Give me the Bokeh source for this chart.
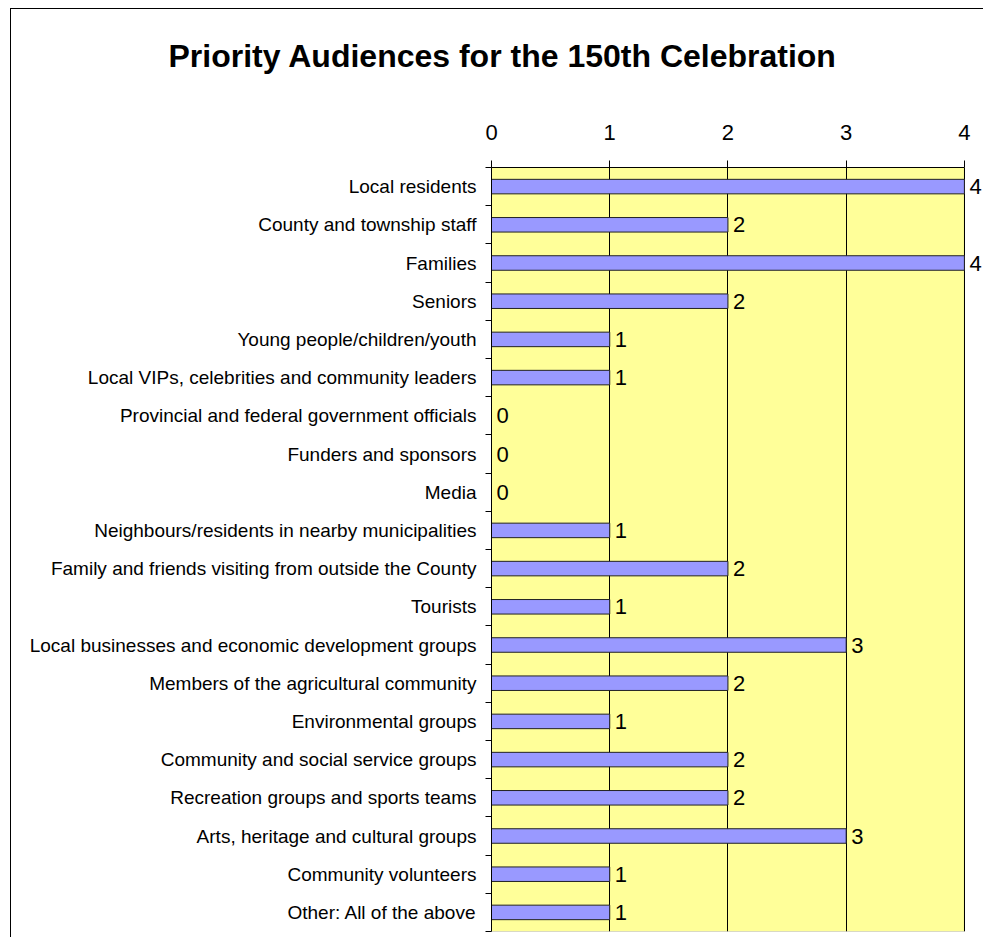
from bokeh.plotting import figure
from bokeh.models import ColumnDataSource, FixedTicker, Range1d, LabelSet, BoxAnnotation
from bokeh.core.properties import value
from bokeh.embed import file_html
from bokeh.resources import INLINE

title_text = "Priority Audiences for the 150th Celebration"
categories = [
    "Local residents",
    "County and township staff",
    "Families",
    "Seniors",
    "Young people/children/youth",
    "Local VIPs, celebrities and community leaders",
    "Provincial and federal government officials",
    "Funders and sponsors",
    "Media",
    "Neighbours/residents in nearby municipalities",
    "Family and friends visiting from outside the County",
    "Tourists",
    "Local businesses and economic development groups",
    "Members of the agricultural community",
    "Environmental groups",
    "Community and social service groups",
    "Recreation groups and sports teams",
    "Arts, heritage and cultural groups",
    "Community volunteers",
    "Other: All of the above",
]
values = [4, 2, 4, 2, 1, 1, 0, 0, 0, 1, 2, 1, 3, 2, 1, 2, 2, 3, 1, 1]
x_ticks = [0, 1, 2, 3, 4]

n = len(categories)
pos = list(range(n))
source = ColumnDataSource(data=dict(y=pos, value=values, label=[str(v) for v in values]))

x_min, x_max = x_ticks[0], x_ticks[-1]

p = figure(
    width=973, height=929,
    x_range=Range1d(x_min, x_max + 0.17), y_range=Range1d(n - 0.5, -0.5),
    x_axis_location="above",
    output_backend="svg", toolbar_location=None,
    min_border_left=480, min_border_top=158, min_border_right=0, min_border_bottom=7,
)
p.styles = {"margin-left": "10px", "margin-top": "8px",
            "border-left": "1px solid #000000", "border-top": "1px solid #000000"}
p.background_fill_color = "white"
p.border_fill_color = "white"
p.outline_line_color = None

plot_area = BoxAnnotation(left=x_min, right=x_max, top=-0.5, bottom=n - 0.5,
                          fill_color="#FFFF99", fill_alpha=1.0,
                          line_color="#000000", line_width=1, level="image")
p.add_layout(plot_area)

p.hbar(y="y", right="value", left=0, height=0.38, source=source,
       fill_color="#9999FF", line_color="#222222", line_width=1)

labels = LabelSet(x="value", y="y", text="label", source=source, x_offset=5,
                  text_baseline="middle", text_font=value("Liberation Sans"),
                  text_font_size=value("22px"), text_color="black")
p.add_layout(labels)

# x axis (top)
p.xaxis.ticker = FixedTicker(ticks=x_ticks)
p.xaxis.bounds = (x_min, x_max)
p.xaxis.axis_line_color = "black"
p.xaxis.major_tick_in = 0
p.xaxis.major_tick_out = 7
p.xaxis.minor_tick_line_color = None
p.xaxis.major_label_text_font = "Liberation Sans"
p.xaxis.major_label_text_font_size = "22px"
p.xaxis.major_label_text_color = "black"
p.xaxis.major_label_standoff = 21

# y axis (left)
p.yaxis.ticker = FixedTicker(ticks=pos, minor_ticks=[i - 0.5 for i in range(n + 1)])
p.yaxis.major_label_overrides = {i: c for i, c in enumerate(categories)}
p.yaxis.major_tick_line_color = None
p.yaxis.major_tick_in = 0
p.yaxis.major_tick_out = 0
p.yaxis.minor_tick_in = 0
p.yaxis.minor_tick_out = 6
p.yaxis.minor_tick_line_color = "black"
p.yaxis.axis_line_color = "black"
p.yaxis.major_label_text_font = "Liberation Sans"
p.yaxis.major_label_text_font_size = "19px"
p.yaxis.major_label_text_color = "black"
p.yaxis.major_label_standoff = 9

p.xgrid.grid_line_color = "black"
p.xgrid.grid_line_alpha = 1.0
p.xgrid.bounds = (x_min, x_max)
p.ygrid.grid_line_color = None

# a blank second line keeps the title up near the top edge
p.title.text = title_text + "\n "
p.title.text_font = "Liberation Sans"
p.title.text_font_style = "bold"
p.title.text_font_size = "32px"
p.title.text_color = "black"
p.title.align = "left"
p.title.offset = -323
p.title.standoff = 23

open("out.html", "w").write(file_html(p, INLINE))
